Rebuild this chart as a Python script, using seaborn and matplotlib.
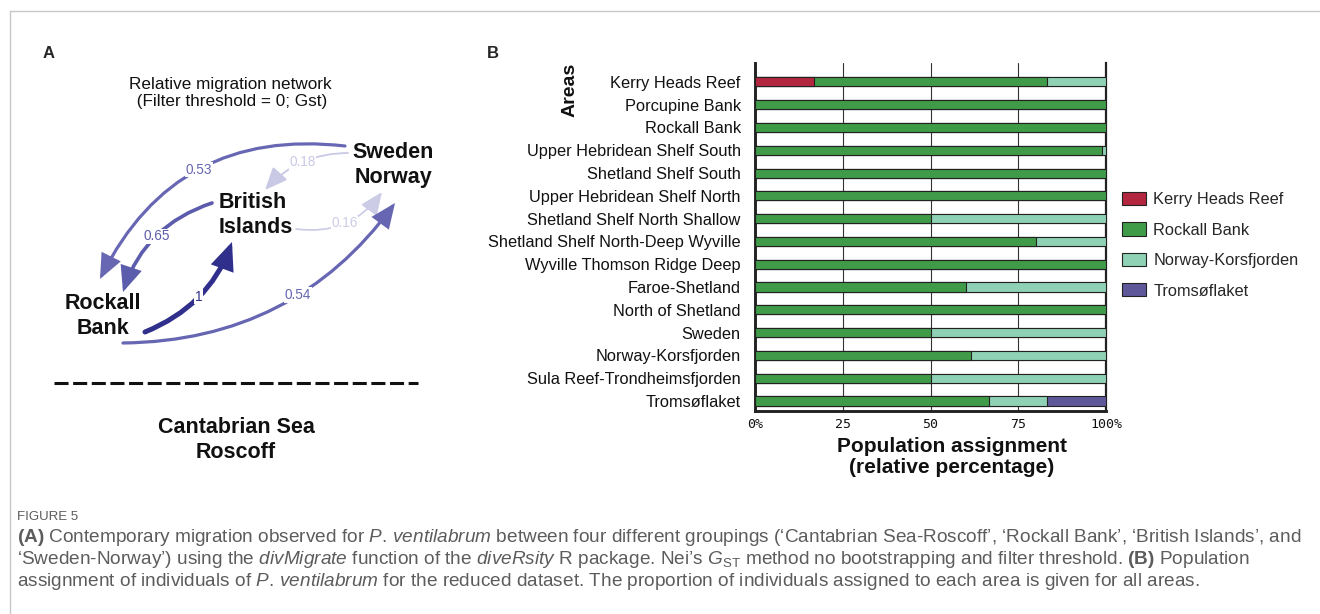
import numpy as np
import pandas as pd
import seaborn as sns
import matplotlib
matplotlib.use("Agg")
import matplotlib.pyplot as plt
from matplotlib import font_manager
from matplotlib.patches import FancyArrowPatch, Patch
from matplotlib.colors import LinearSegmentedColormap

# ---- panel B data: population assignment (%) ----
areas = [
    "Kerry Heads Reef", "Porcupine Bank", "Rockall Bank", "Upper Hebridean Shelf South",
    "Shetland Shelf South", "Upper Hebridean Shelf North", "Shetland Shelf North Shallow",
    "Shetland Shelf North-Deep Wyville", "Wyville Thomson Ridge Deep", "Faroe-Shetland",
    "North of Shetland", "Sweden", "Norway-Korsfjorden", "Sula Reef-Trondheimsfjorden",
    "Tromsøflaket",
]
kerry_heads = [16.7, 0, 0, 0, 0, 0, 0, 0, 0, 0, 0, 0, 0, 0, 0]
rockall_bank = [66.6, 100, 100, 98.8, 100, 100, 50, 80, 100, 60, 100, 50, 61.5, 50, 66.7]
norway_kors = [16.7, 0, 0, 1.2, 0, 0, 50, 20, 0, 40, 0, 50, 38.5, 50, 16.6]
tromso = [0, 0, 0, 0, 0, 0, 0, 0, 0, 0, 0, 0, 0, 0, 16.7]
groups = ["Kerry Heads Reef", "Rockall Bank", "Norway-Korsfjorden", "Tromsøflaket"]
group_colors = ["#B3263F", "#3F9B48", "#8FD1B4", "#5E5799"]
x_ticks = [0, 25, 50, 75, 100]
x_ticklabels = ["0%", "25", "50", "75", "100%"]

# ---- panel A data: relative migration network ----
edge_from = ["Sweden-Norway", "Sweden-Norway", "British Islands", "Rockall Bank", "British Islands", "Rockall Bank"]
edge_to = ["Rockall Bank", "British Islands", "Rockall Bank", "British Islands", "Sweden-Norway", "Sweden-Norway"]
edge_weight = [0.53, 0.18, 0.65, 1.0, 0.16, 0.54]

# layout (pixel space of the 1320x614 canvas)
W, H = 1320, 614
edge_ports = [((345, 146), (100, 279)), ((348, 153), (265, 190)), ((212, 203), (123, 292)),
              ((145, 332), (232, 242)), ((296, 229), (382, 192)), ((123, 343), (395, 203))]
edge_rad = [0.35, 0.22, 0.25, 0.22, 0.3, 0.25]
label_t = [0.5, 0.5, 0.5, 0.5, 0.5, 0.58]

sns.set_style("white")
plt.rcParams["font.family"] = ["Liberation Sans", "DejaVu Sans"]
names = {f.name for f in font_manager.fontManager.ttflist}
CAP_FONT = "Liberation Sans Narrow" if "Liberation Sans Narrow" in names else "Liberation Sans"
plt.rcParams["mathtext.fontset"] = "custom"
plt.rcParams["mathtext.rm"] = CAP_FONT
plt.rcParams["mathtext.it"] = CAP_FONT + ":italic"
plt.rcParams["mathtext.bf"] = CAP_FONT + ":bold"

fig = plt.figure(figsize=(W / 100, H / 100), dpi=100)

# overlay axes in pixel coordinates for the network, labels and caption
ov = fig.add_axes([0, 0, 1, 1], zorder=0)
ov.set_xlim(0, W)
ov.set_ylim(H, 0)
ov.axis("off")

# frame
ov.plot([10, W], [11, 11], color="#c8c8c8", lw=1)
ov.plot([10, 10], [11, H], color="#c8c8c8", lw=1)

ov.text(43, 53, "A", fontsize=12, fontweight="bold", ha="left", va="center")
ov.text(487, 53, "B", fontsize=12, fontweight="bold", ha="left", va="center")

ov.text(230, 93, "Relative migration network\n (Filter threshold = 0; Gst)", fontsize=12.3,
        ha="center", va="center", linespacing=1.1, color="#111")

node_kw = dict(fontsize=15.5, fontweight="bold", va="center", color="#111", linespacing=1.2)
ov.text(393, 165, "Sweden\nNorway", ha="center", **node_kw)
ov.text(219, 215, "British\nIslands", ha="left", multialignment="left", **node_kw)
ov.text(103, 316, "Rockall\nBank", ha="center", **node_kw)
ov.text(236, 440, "Cantabrian Sea\nRoscoff", ha="center", **node_kw)
ov.plot([54, 418], [383, 383], color="#111", lw=2.2, ls=(0, (4.6, 1.5)))

edge_cmap = LinearSegmentedColormap.from_list(
    "edges", [(0, "#E2E2F3"), (0.2, "#C6C6E3"), (0.5, "#6A6AB6"), (0.7, "#5757A9"), (1, "#30308C")])

for (p0, p2), w, rad, t in zip(edge_ports, edge_weight, edge_rad, label_t):
    col = edge_cmap(w)
    lw = 0.8 + 2.8 * w
    arr = FancyArrowPatch(p0, p2, connectionstyle=f"arc3,rad={rad}",
                          arrowstyle="-|>,head_length=1.4,head_width=0.6",
                          mutation_scale=10, lw=lw, color=col, shrinkA=0, shrinkB=0,
                          capstyle="round", joinstyle="miter", zorder=2)
    ov.add_patch(arr)
    p0a, p2a = np.array(p0, float), np.array(p2, float)
    d = p2a - p0a
    ctrl = (p0a + p2a) / 2 + rad * np.array([-d[1], d[0]])
    pt = (1 - t) ** 2 * p0a + 2 * t * (1 - t) * ctrl + t ** 2 * p2a
    ov.text(pt[0], pt[1], f"{w:g}", fontsize=9.8, color=col, ha="center", va="center", zorder=3,
            bbox=dict(boxstyle="square,pad=0.05", fc="white", ec="none"))

# ---- panel B: stacked bars ----
axb = fig.add_axes([755 / W, 1 - 411 / H, 351 / W, 348 / H], zorder=1)
axb.patch.set_alpha(0)
df = pd.DataFrame({"area": areas, groups[0]: kerry_heads, groups[1]: rockall_bank,
                   groups[2]: norway_kors, groups[3]: tromso})
cum = df[groups].cumsum(axis=1)
for name, col in reversed(list(zip(groups, group_colors))):
    layer = pd.DataFrame({"area": areas, "value": cum[name]})
    sns.barplot(data=layer, x="value", y="area", order=areas, orient="h", color=col,
                saturation=1, width=0.4, edgecolor="#222", linewidth=0.8, errorbar=None,
                ax=axb, zorder=3)

axb.set_xlim(0, 100)
axb.set_ylim(14.44, -0.83)
axb.set_xticks(x_ticks)
axb.set_xticklabels(x_ticklabels, family=["DejaVu Sans Mono"], fontsize=9.5, color="#111")
axb.tick_params(axis="x", length=0, pad=5)
axb.tick_params(axis="y", length=5.8, width=2, color="#222", pad=4.5, labelsize=11.8, labelcolor="#111")
axb.grid(axis="x", color="#333", lw=0.8, zorder=0)
axb.set_axisbelow(True)
for side in ["left", "bottom"]:
    axb.spines[side].set_linewidth(2.1)
    axb.spines[side].set_color("#222")
axb.spines["right"].set_linewidth(1.6)
axb.spines["right"].set_color("#222")
axb.spines["top"].set_visible(False)
axb.set_xlabel("")
axb.set_ylabel("")

ov.text(570, 90, "Areas", fontsize=14, fontweight="bold", rotation=90, ha="center", va="center", color="#111")
ov.text(952, 457, "Population assignment\n(relative percentage)", fontsize=15, fontweight="bold",
        ha="center", va="center", linespacing=1.15, color="#111")

handles = [Patch(facecolor=c, edgecolor="#222", lw=0.8) for c in group_colors]
fig.legend(handles, groups, loc="upper left", bbox_to_anchor=(1122 / W, 1 - 192 / H),
           frameon=False, fontsize=11.8, handlelength=1.46, handleheight=0.85,
           handletextpad=0.45, labelspacing=0.93, borderpad=0, borderaxespad=0)

# ---- caption ----
cap_color = "#5c5c5c"
ov.text(17, 517, "FIGURE 5", fontsize=9.5, family=[CAP_FONT, "DejaVu Sans"], color=cap_color,
        ha="left", va="center")
cap_lines = [
    r"$\mathbf{(A)}$ Contemporary migration observed for $\mathit{P.\,ventilabrum}$ between four different "
    r"groupings (‘Cantabrian Sea-Roscoff’, ‘Rockall Bank’, ‘British Islands’, and",
    r"‘Sweden-Norway’) using the $\mathit{divMigrate}$ function of the $\mathit{diveRsity}$ R package. "
    r"Nei’s $G_{\mathrm{ST}}$ method no bootstrapping and filter threshold. $\mathbf{(B)}$ Population",
    r"assignment of individuals of $\mathit{P.\,ventilabrum}$ for the reduced dataset. The proportion of "
    r"individuals assigned to each area is given for all areas.",
]
cap_texts = [ov.text(17, y, s, fontsize=11, family=[CAP_FONT, "DejaVu Sans"], color=cap_color,
                     ha="left", va="center") for s, y in zip(cap_lines, [537, 559, 581])]
fig.canvas.draw()
w0 = cap_texts[0].get_window_extent().width
size = 11 * 1286 / w0
for t in cap_texts:
    t.set_fontsize(size)

fig.savefig("out.png", dpi=100)
